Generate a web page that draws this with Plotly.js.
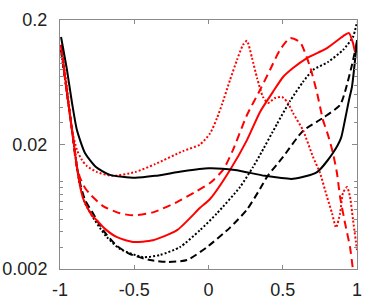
<!DOCTYPE html>
<html>
<head>
<meta charset="utf-8">
<script src="https://cdn.plot.ly/plotly-3.0.1.min.js"></script>
<style>html,body{margin:0;padding:0;background:#fff;}#chart{width:383px;height:300px;}</style>
</head>
<body>
<div id="chart"></div>
<script>
// ---- data ----
const blackSolidX = [-0.993,-0.953,-0.919,-0.886,-0.832,-0.758,-0.663,-0.495,-0.360,-0.172,0,0.178,0.380,0.569,0.731,0.838,0.892,0.919,0.946,0.966,0.987,1.0];
const blackSolidY = [0.146,0.0794,0.0431,0.0261,0.0171,0.0132,0.0114,0.0108,0.0112,0.0122,0.0129,0.0125,0.0112,0.0106,0.0120,0.0171,0.0225,0.0315,0.0455,0.058,0.0955,0.138];

const blackDashX = [-0.993,-0.953,-0.919,-0.886,-0.865,-0.832,-0.778,-0.710,-0.616,-0.529,-0.394,-0.279,-0.145,-0.010,0.145,0.259,0.347,0.394,0.502,0.636,0.771,0.886,0.919,0.966,1.0];
const blackDashY = [0.115,0.0519,0.0261,0.0132,0.0098,0.0072,0.0056,0.0041,0.00306,0.00264,0.00236,0.00228,0.00236,0.0030,0.0043,0.0060,0.0088,0.0110,0.0159,0.0257,0.0327,0.0415,0.0529,0.0870,0.133];

const blackDotX = [-0.993,-0.953,-0.919,-0.886,-0.865,-0.832,-0.778,-0.731,-0.684,-0.596,-0.441,-0.327,-0.192,-0.057,0.057,0.212,0.300,0.347,0.461,0.549,0.636,0.704,0.805,0.906,0.973,1.0];
const blackDotY = [0.115,0.0519,0.0261,0.0132,0.0093,0.0068,0.0052,0.00427,0.0036,0.0029,0.00249,0.00259,0.0030,0.0041,0.0056,0.0091,0.0132,0.0165,0.0292,0.0447,0.0636,0.0794,0.0920,0.115,0.146,0.193];

const redSolidX = [-0.993,-0.953,-0.919,-0.886,-0.865,-0.845,-0.818,-0.785,-0.751,-0.697,-0.616,-0.508,-0.374,-0.212,-0.057,0.010,0.145,0.259,0.347,0.434,0.502,0.569,0.663,0.798,0.919,0.946,0.973,0.987,1.0];
const redSolidY = [0.126,0.0519,0.0261,0.0132,0.0093,0.0074,0.0063,0.0054,0.0049,0.0042,0.0036,0.0033,0.0034,0.0041,0.0062,0.0073,0.0125,0.0217,0.0365,0.0529,0.0697,0.0823,0.099,0.119,0.152,0.157,0.131,0.111,0.126];

const redDashX = [-0.993,-0.953,-0.919,-0.892,-0.865,-0.832,-0.798,-0.710,-0.596,-0.508,-0.374,-0.212,-0.091,0.010,0.098,0.165,0.259,0.347,0.414,0.481,0.549,0.616,0.684,0.731,0.771,0.805,0.838,0.865,0.886,0.919,0.953,0.973,0.993];
const redDashY = [0.126,0.0519,0.0261,0.0142,0.0108,0.0090,0.0080,0.0064,0.0056,0.0054,0.0057,0.0069,0.0083,0.0098,0.0125,0.0181,0.0345,0.0548,0.0794,0.115,0.143,0.133,0.0839,0.0519,0.0315,0.0238,0.0171,0.0118,0.0076,0.0047,0.0030,0.00196,0.00124];

const redDotX = [-0.993,-0.953,-0.919,-0.886,-0.852,-0.818,-0.751,-0.650,-0.495,-0.360,-0.172,-0.057,0.010,0.057,0.091,0.145,0.192,0.232,0.259,0.293,0.327,0.367,0.401,0.448,0.495,0.535,0.569,0.636,0.704,0.751,0.798,0.832,0.859,0.886,0.906,0.933,0.953,0.973,1.0];
const redDotY = [0.126,0.058,0.0261,0.0181,0.0150,0.0134,0.0120,0.0112,0.0120,0.0139,0.0177,0.0200,0.0245,0.0325,0.0420,0.0660,0.0955,0.126,0.136,0.099,0.0684,0.0482,0.0431,0.0473,0.0482,0.0431,0.0358,0.0261,0.0159,0.0118,0.0076,0.0056,0.0043,0.0056,0.0082,0.0091,0.0076,0.0050,0.00284];

const xTickVals = [-1,-0.5,0,0.5,1];
const xTickText = ['-1','-0.5','0','0.5','1'];
const yTickVals = [0.002,0.02,0.2];
const yTickText = ['0.002','0.02','0.2'];
const yMinorVals = [0.003,0.004,0.005,0.006,0.007,0.008,0.009,0.01,0.03,0.04,0.05,0.06,0.07,0.08,0.09,0.1];

// ---- traces ----
const RED = '#ff0000', BLACK = '#000000';
function tr(x, y, color, dash, width) {
  return {x: x, y: y, type: 'scatter', mode: 'lines',
    line: {color: color, width: width, dash: dash, shape: 'spline', smoothing: 0.6},
    hoverinfo: 'skip', showlegend: false};
}
const data = [
  tr(blackDashX, blackDashY, BLACK, '7px,4px', 2),
  tr(blackDotX, blackDotY, BLACK, '2px,2px', 2),
  tr(redDotX, redDotY, RED, '2px,2px', 2),
  tr(redDashX, redDashY, RED, '8px,5px', 2),
  tr(redSolidX, redSolidY, RED, 'solid', 2),
  tr(blackSolidX, blackSolidY, BLACK, 'solid', 2)
];

const FRAME = '#8a8a8a';
const layout = {
  width: 383, height: 300,
  margin: {l: 60, r: 26, t: 20, b: 31, pad: 0},
  paper_bgcolor: '#fff', plot_bgcolor: '#fff',
  font: {family: '"Liberation Sans", Arial, sans-serif', size: 18, color: '#222'},
  xaxis: {
    range: [-1, 1], tickmode: 'array', tickvals: xTickVals, ticktext: xTickText,
    ticks: 'inside', ticklen: 4, tickwidth: 1, tickcolor: FRAME,
    showline: true, linecolor: FRAME, linewidth: 1, mirror: 'ticks',
    showgrid: false, zeroline: false, ticklabelstandoff: 4
  },
  yaxis: {
    type: 'log', range: [Math.log10(0.002), Math.log10(0.2)],
    tickmode: 'array', tickvals: yTickVals, ticktext: yTickText,
    ticks: 'inside', ticklen: 5, tickwidth: 1, tickcolor: FRAME,
    minor: {tickmode: 'array', tickvals: yMinorVals, ticks: 'inside', ticklen: 3, tickcolor: FRAME, showgrid: false},
    showline: true, linecolor: FRAME, linewidth: 1, mirror: 'ticks',
    showgrid: false, zeroline: false, ticklabelstandoff: 8
  }
};

Plotly.newPlot('chart', data, layout, {staticPlot: true, displayModeBar: false});
</script>
</body>
</html>
